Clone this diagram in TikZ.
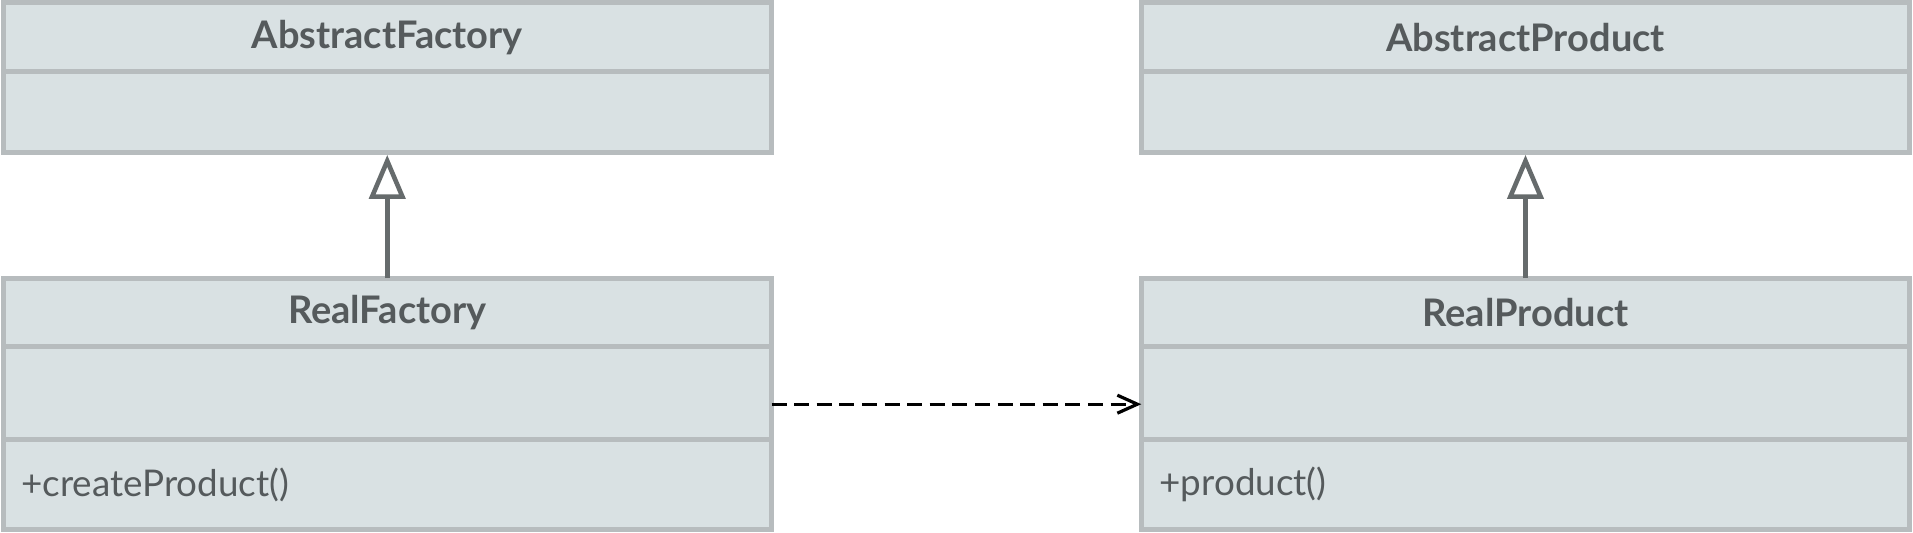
\documentclass[tikz,border=0pt]{standalone}
\usepackage{fontspec}
\setmainfont{Lato}
\definecolor{boxFill}{HTML}{D9E1E3}
\definecolor{boxLine}{HTML}{B7BCBE}
\definecolor{boxText}{HTML}{555A5C}
\definecolor{arrowGray}{HTML}{666B6C}
\usetikzlibrary{arrows.meta, positioning}

\begin{document}
\begin{tikzpicture}[x=0.5pt, y=0.5pt,
  part/.style={draw=boxLine, line width=2.5pt, fill=boxFill, outer sep=0pt,
    inner sep=0pt, minimum width=384.25pt, text=boxText},
  title/.style={part, minimum height=34.25pt, font=\fontsize{19}{22}\selectfont\bfseries},
  attrs/.style={part, minimum height=#1},
  ops/.style={part, minimum height=45.25pt, text width=366pt, inner xsep=9.1pt,
    align=left, font=\fontsize{18.4}{22}\selectfont},
  inherits/.style={draw=arrowGray, line width=2.3pt,
    -{Triangle[open, length=22pt, width=18pt]}, shorten >=1.2pt},
  depends/.style={draw=black, line width=1.6pt, dash pattern=on 7.5pt off 3.8pt,
    -{Straight Barb[length=10pt, width=9pt]}}]

\useasboundingbox (0,0) rectangle (1913,-533);

% left column
\node[title] (absFactory) at (387.25,-37.25) {AbstractFactory};
\node[attrs=40.5pt, below=0pt of absFactory] (absFactoryAttr) {};
\node[title] (realFactory) at (387.25,-312.5) {RealFactory};
\node[attrs=46.25pt, below=0pt of realFactory] (realFactoryAttr) {};
\node[ops, below=0pt of realFactoryAttr] (realFactoryOps) {+createProduct()};

% right column
\node[title] (absProduct) at (1525.5,-37.25) {AbstractProduct};
\node[attrs=40.5pt, below=0pt of absProduct] (absProductAttr) {};
\node[title] (realProduct) at (1525.5,-312.5) {RealProduct};
\node[attrs=46.25pt, below=0pt of realProduct] (realProductAttr) {};
\node[ops, below=0pt of realProductAttr] (realProductOps) {+product()};

\draw[inherits] (realFactory.north) -- (absFactoryAttr.south);
\draw[inherits] (realProduct.north) -- (absProductAttr.south);
\draw[depends] ([yshift=-5.6pt]realFactoryAttr.east) -- ([yshift=-5.6pt]realProductAttr.west);
\end{tikzpicture}
\end{document}
